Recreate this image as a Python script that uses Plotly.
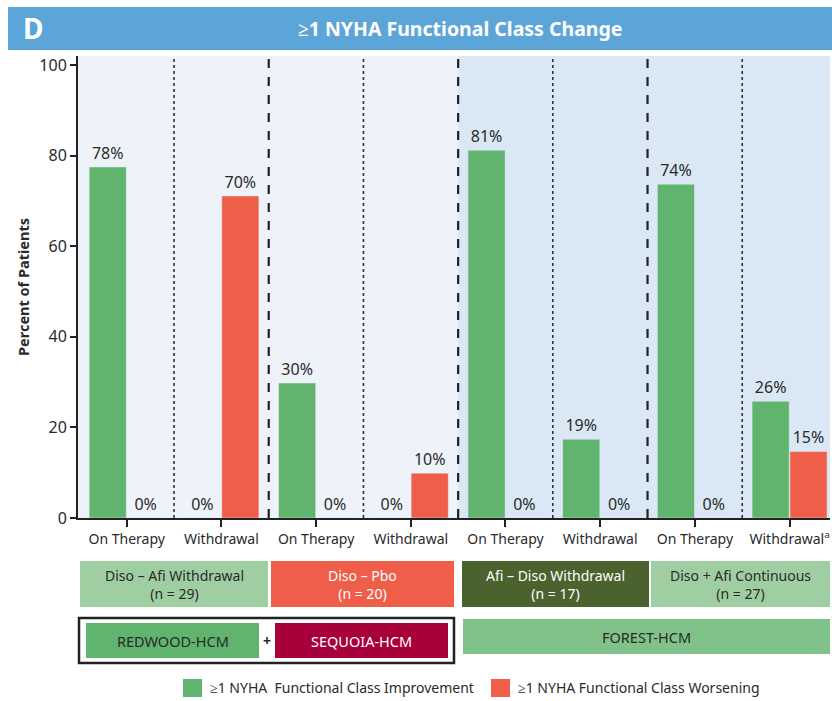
import plotly.graph_objects as go

# ---------------- data ----------------
categories = ["On Therapy", "Withdrawal", "On Therapy", "Withdrawal",
              "On Therapy", "Withdrawal", "On Therapy", "Withdrawal<sup>a</sup>"]
improvement = [77.5, 0, 29.8, 0, 81.2, 17.4, 73.7, 25.8]
worsening = [0, 71.1, 0, 9.9, 0, 0, 0, 14.7]
improvement_labels = ["78%", "0%", "30%", "0%", "81%", "19%", "74%", "26%"]
worsening_labels = ["0%", "70%", "0%", "10%", "0%", "0%", "0%", "15%"]
y_ticks = [0, 20, 40, 60, 80, 100]

group_labels = ["Diso – Afi Withdrawal<br>(n = 29)", "Diso – Pbo<br>(n = 20)",
                "Afi – Diso Withdrawal<br>(n = 17)", "Diso + Afi Continuous<br>(n = 27)"]
trial_labels = ["REDWOOD-HCM", "SEQUOIA-HCM", "FOREST-HCM"]
legend_labels = ["≥1 NYHA\u00a0 Functional Class Improvement",
                 "≥1 NYHA Functional Class Worsening"]
title_text = "≥1 NYHA Functional Class Change"
panel_letter = "D"

# ---------------- style ----------------
GREEN = "#60B46E"
RED = "#EF5E48"
LIGHT_GREEN = "#A0CEA3"
DARK_GREEN = "#4A622E"
FOREST = "#80C28A"
CRIMSON = "#A8003A"
BLUE = "#5BA5D9"
TXT = "#2a2a2a"
FONT = "Noto Sans"

W, H = 832, 701
L, R, T, B = 78, 2, 56, 183
PW, PH = W - L - R, H - T - B


def px(x):
    return (x - L) / PW


def py(y):
    return (H - B - y) / PH


fig = go.Figure()
fig.add_trace(go.Bar(x=list(range(len(categories))), y=improvement, name=legend_labels[0],
                     marker_color=GREEN, text=improvement_labels, textposition="outside",
                     constraintext="none",
                     textfont=dict(size=16, color=TXT, family=FONT), cliponaxis=False,
                     showlegend=False))
fig.add_trace(go.Bar(x=list(range(len(categories))), y=worsening, name=legend_labels[1],
                     marker_color=RED, text=worsening_labels, textposition="outside",
                     constraintext="none",
                     textfont=dict(size=16, color=TXT, family=FONT), cliponaxis=False,
                     showlegend=False))

x_min = -0.514
x_max = x_min + PW / 94.7
y_max = 102

shapes = []
annotations = []

# right background panel
shapes.append(dict(type="rect", xref="x", yref="y", x0=3.5, x1=x_max, y0=0, y1=y_max,
                   fillcolor="#DAE7F4", line_width=0, layer="below"))
# dividers
for i in range(len(categories) - 1):
    xv = i + 0.5
    if i % 2 == 1:
        shapes.append(dict(type="line", xref="x", yref="y", x0=xv, x1=xv, y0=0, y1=y_max,
                           line=dict(color="#222", width=2.2, dash="dash"), layer="below"))
    else:
        shapes.append(dict(type="line", xref="x", yref="y", x0=xv, x1=xv, y0=0, y1=y_max,
                           line=dict(color="#333", width=1.6, dash="dot"), layer="below"))

# title bar
shapes.append(dict(type="rect", xref="paper", yref="paper", x0=px(8), x1=px(832),
                   y0=py(50), y1=py(7), fillcolor=BLUE, line_width=0))
annotations.append(dict(xref="paper", yref="paper", x=px(21), y=py(28.5), xanchor="left",
                        yanchor="middle", text="<b>" + panel_letter + "</b>", showarrow=False,
                        font=dict(size=28, color="white", family=FONT)))
annotations.append(dict(xref="paper", yref="paper", x=px(460), y=py(28.5), xanchor="center",
                        yanchor="middle", text="<b>" + title_text + "</b>", showarrow=False,
                        font=dict(size=19.5, color="white", family=FONT)))

# group boxes
boxes = [(80, 268, LIGHT_GREEN, TXT), (271, 454, RED, "white"),
         (462, 649, DARK_GREEN, "white"), (651, 830, LIGHT_GREEN, TXT)]
for (x0, x1, fc, tc), lab in zip(boxes, group_labels):
    shapes.append(dict(type="rect", xref="paper", yref="paper", x0=px(x0), x1=px(x1),
                       y0=py(607), y1=py(561), fillcolor=fc, line_width=0))
    annotations.append(dict(xref="paper", yref="paper", x=px((x0 + x1) / 2), y=py(584),
                            xanchor="center", yanchor="middle", text=lab, showarrow=False,
                            font=dict(size=14, color=tc, family=FONT)))

# trial boxes
shapes.append(dict(type="rect", xref="paper", yref="paper", x0=px(79), x1=px(454),
                   y0=py(663), y1=py(618), fillcolor="rgba(0,0,0,0)",
                   line=dict(color="#222", width=2.5)))
trials = [(86, 259, 623, 658, GREEN, TXT), (275, 448, 623, 658, CRIMSON, "white"),
          (463, 830, 619, 654, FOREST, TXT)]
for (x0, x1, y0, y1, fc, tc), lab in zip(trials, trial_labels):
    shapes.append(dict(type="rect", xref="paper", yref="paper", x0=px(x0), x1=px(x1),
                       y0=py(y1), y1=py(y0), fillcolor=fc, line_width=0))
    annotations.append(dict(xref="paper", yref="paper", x=px((x0 + x1) / 2), y=py((y0 + y1) / 2),
                            xanchor="center", yanchor="middle", text=lab, showarrow=False,
                            font=dict(size=14.5, color=tc, family=FONT)))
annotations.append(dict(xref="paper", yref="paper", x=px(266.5), y=py(640), xanchor="center",
                        yanchor="middle", text="<b>+</b>", showarrow=False,
                        font=dict(size=14, color=TXT, family=FONT)))

# legend
for (sx, col), lab in zip([(183, GREEN), (491, RED)], legend_labels):
    shapes.append(dict(type="rect", xref="paper", yref="paper", x0=px(sx), x1=px(sx + 19),
                       y0=py(697), y1=py(679), fillcolor=col, line_width=0))
    annotations.append(dict(xref="paper", yref="paper", x=px(sx + 25), y=py(688),
                            xanchor="left", yanchor="middle", text=lab, showarrow=False,
                            font=dict(size=14, color=TXT, family=FONT)))

fig.update_layout(
    width=W, height=H,
    margin=dict(l=L, r=R, t=T, b=B, pad=0),
    paper_bgcolor="white", plot_bgcolor="#EEF3F9",
    barmode="group", bargap=0.2, bargroupgap=0.02,
    font=dict(family=FONT, color=TXT),
    shapes=shapes, annotations=annotations,
    xaxis=dict(range=[x_min, x_max], tickvals=list(range(len(categories))), ticktext=categories,
               ticks="outside", ticklen=7, tickwidth=2, tickcolor="#222",
               showline=True, linewidth=2, linecolor="#222", showgrid=False, zeroline=False,
               tickfont=dict(size=14, color=TXT, family=FONT), fixedrange=True),
    yaxis=dict(range=[0, y_max], tickvals=y_ticks, ticks="outside", ticklen=6, tickwidth=2,
               tickcolor="#222", showline=True, linewidth=2, linecolor="#222",
               showgrid=False, zeroline=False, tickfont=dict(size=16, color=TXT, family=FONT),
               title=dict(text="<b>Percent of Patients</b>", font=dict(size=14.5, color=TXT, family=FONT),
                          standoff=6), fixedrange=True),
)

fig.write_html("out.html", config={"displayModeBar": False},
               post_script="document.body.style.margin='0';document.body.style.padding='0';")
